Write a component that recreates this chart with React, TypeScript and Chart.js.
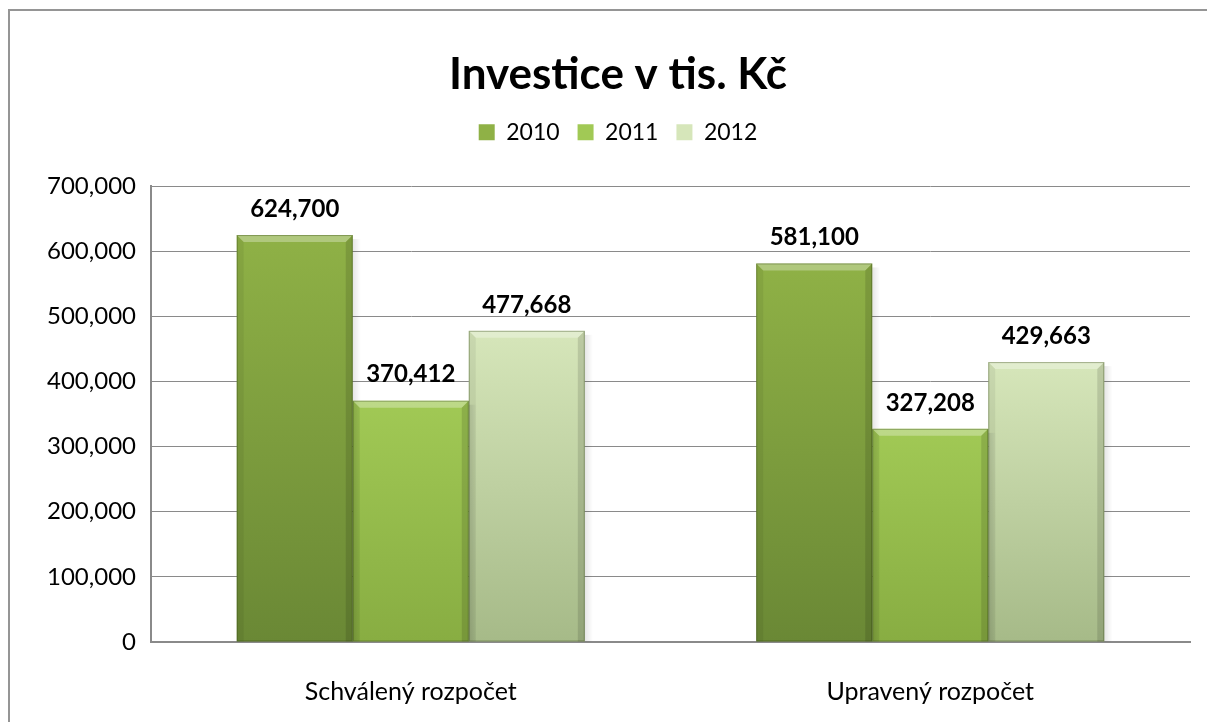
import React, { useEffect, useRef } from "react";
import { Chart, registerables } from "chart.js";

Chart.register(...registerables);

const categories = ["Schválený rozpočet", "Upravený rozpočet"];
const seriesNames = ["2010", "2011", "2012"];
const values2010 = [624700, 581100];
const values2011 = [370412, 327208];
const values2012 = [477668, 429663];
const yTicks = [0, 100000, 200000, 300000, 400000, 500000, 600000, 700000];

const topColors = ["#8fb146", "#a1c955", "#d6e6ba"];
const bottomColors = ["#6a8835", "#88ad42", "#a6ba88"];
const midColors = ["#7b9c3d", "#94bb4b", "#c0d3a0"];

const FONT = "Lato, 'Open Sans', sans-serif";
const fmt = (v: number) => v.toLocaleString("en-US");

const bevelPlugin = {
  id: "bevel",
  afterDatasetsDraw(chart: any) {
    const ctx = chart.ctx;
    chart.data.datasets.forEach((_: any, di: number) => {
      const meta = chart.getDatasetMeta(di);
      meta.data.forEach((el: any) => {
        const w = el.width;
        const l = el.x - w / 2;
        const r = el.x + w / 2;
        const t = el.y;
        const b = el.base;
        const bv = 7;
        ctx.save();
        const sg = ctx.createLinearGradient(r, 0, r + 8, 0);
        sg.addColorStop(0, "rgba(0,0,0,0.10)");
        sg.addColorStop(1, "rgba(0,0,0,0)");
        ctx.fillStyle = sg;
        ctx.fillRect(r, t + 4, 8, b - t - 4);
        ctx.beginPath();
        ctx.moveTo(l, t);
        ctx.lineTo(r, t);
        ctx.lineTo(r - bv, t + bv);
        ctx.lineTo(l + bv, t + bv);
        ctx.closePath();
        ctx.fillStyle = "rgba(255,255,255,0.30)";
        ctx.fill();
        ctx.beginPath();
        ctx.moveTo(l, t);
        ctx.lineTo(l + bv, t + bv);
        ctx.lineTo(l + bv, b);
        ctx.lineTo(l, b);
        ctx.closePath();
        ctx.fillStyle = "rgba(0,0,0,0.06)";
        ctx.fill();
        ctx.beginPath();
        ctx.moveTo(r, t);
        ctx.lineTo(r - bv, t + bv);
        ctx.lineTo(r - bv, b);
        ctx.lineTo(r, b);
        ctx.closePath();
        ctx.fillStyle = "rgba(0,0,0,0.12)";
        ctx.fill();
        ctx.strokeStyle = "rgba(40,60,10,0.35)";
        ctx.lineWidth = 1;
        ctx.strokeRect(l + 0.5, t + 0.5, w - 1, b - t - 1);
        ctx.restore();
      });
    });
  },
};

const labelPlugin = {
  id: "valueLabels",
  afterDatasetsDraw(chart: any) {
    const ctx = chart.ctx;
    ctx.save();
    ctx.font = `bold 24px ${FONT}`;
    ctx.fillStyle = "#000";
    ctx.textAlign = "center";
    ctx.textBaseline = "middle";
    chart.data.datasets.forEach((ds: any, di: number) => {
      const meta = chart.getDatasetMeta(di);
      meta.data.forEach((el: any, i: number) => {
        ctx.fillText(fmt(ds.data[i]), el.x, el.y - 26);
      });
    });
    ctx.restore();
  },
};

const TITLE_SIZE = 44;
const TITLE_PAD_TOP = 37;
const TITLE_PAD_BOTTOM = 2;
const TITLE_BOTTOM = TITLE_PAD_TOP + TITLE_SIZE * 1.2 + TITLE_PAD_BOTTOM;
const PLOT_TOP = 175;

const legendFitPlugin = {
  id: "legendFit",
  beforeInit(chart: any) {
    const lg = chart.legend;
    if (!lg) return;
    const orig = lg.fit;
    lg.fit = function () {
      orig.call(this);
      this.height = PLOT_TOP - TITLE_BOTTOM;
    };
  },
};

function makeGradient(idx: number) {
  return (c: any) => {
    const chart = c.chart;
    const area = chart.chartArea;
    if (c.type !== "data" || !area || !chart.scales.y) return midColors[idx];
    const top = chart.scales.y.getPixelForValue(c.raw as number);
    const g = chart.ctx.createLinearGradient(0, top, 0, area.bottom);
    g.addColorStop(0, topColors[idx]);
    g.addColorStop(1, bottomColors[idx]);
    return g;
  };
}

export default function App() {
  const ref = useRef<HTMLCanvasElement>(null);
  useEffect(() => {
    if (!ref.current) return;
    const allValues = [values2010, values2011, values2012];
    const chart = new Chart(ref.current, {
      type: "bar",
      data: {
        labels: categories,
        datasets: seriesNames.map((name, i) => ({
          label: name,
          data: allValues[i],
          backgroundColor: makeGradient(i),
          borderWidth: 0,
          categoryPercentage: 0.67,
          barPercentage: 1.0,
        })),
      },
      options: {
        responsive: false,
        animation: false,
        layout: { padding: { left: 36, right: 17, top: 0, bottom: 0 } },
        plugins: {
          title: {
            display: true,
            text: "Investice v tis. Kč",
            color: "#000",
            font: { family: FONT, size: TITLE_SIZE, weight: "bold" },
            padding: { top: TITLE_PAD_TOP, bottom: TITLE_PAD_BOTTOM },
          },
          legend: {
            display: true,
            labels: {
              color: "#000",
              font: { family: FONT, size: 23 },
              boxWidth: 16,
              boxHeight: 16,
              padding: 18,
            },
          },
          tooltip: { enabled: false },
        },
        scales: {
          x: {
            grid: { display: false },
            border: { display: true, color: "#8a8a8a", width: 2 },
            ticks: { color: "#000", font: { family: FONT, size: 25 }, padding: 27 },
            afterFit: (s: any) => {
              s.height = 80;
            },
          },
          y: {
            min: yTicks[0],
            max: yTicks[yTicks.length - 1],
            afterBuildTicks: (s: any) => {
              s.ticks = yTicks.map((v) => ({ value: v }));
            },
            grid: { color: "#8a8a8a", lineWidth: 1, drawTicks: false },
            border: { display: true, color: "#8a8a8a", width: 2 },
            ticks: {
              color: "#000",
              font: { family: FONT, size: 24 },
              padding: 15,
              callback: (v: any) => fmt(Number(v)),
            },
            afterFit: (s: any) => {
              s.width = 105;
            },
          },
        },
      },
      plugins: [legendFitPlugin, bevelPlugin, labelPlugin],
    });
    return () => chart.destroy();
  }, []);
  return (
    <div
      style={{
        position: "fixed",
        left: 8,
        top: 9,
        width: 1199,
        height: 713,
        borderTop: "2px solid #959595",
        borderLeft: "2px solid #959595",
        boxSizing: "border-box",
        background: "#fff",
      }}
    >
      <canvas ref={ref} width={1197} height={711} style={{ display: "block" }} />
    </div>
  );
}
